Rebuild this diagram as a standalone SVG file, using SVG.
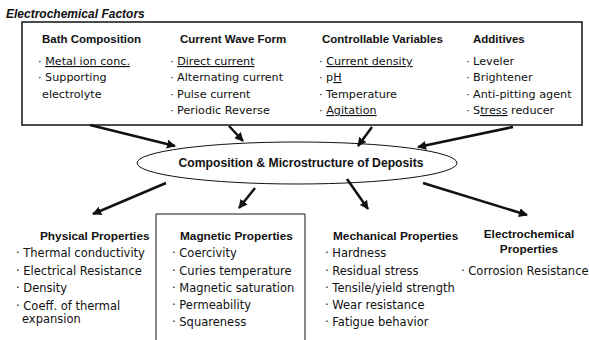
<svg xmlns="http://www.w3.org/2000/svg" width="589" height="340" viewBox="0 0 589 340">
<defs>
<style>
text{font-family:"Liberation Sans",Arial,sans-serif;fill:#111}
.h{font-size:11.5px;font-weight:bold}
.t{font-family:"DejaVu Sans","Liberation Sans",sans-serif;font-size:11.2px}
.b{font-family:"DejaVu Sans","Liberation Sans",sans-serif;font-size:11.5px}
.hb{font-size:11.8px;font-weight:bold}
.u{text-decoration:underline}
.conn line{stroke:#111;stroke-width:2.5;marker-end:url(#ah)}
</style>
<marker id="ah" viewBox="0 0 10 10" refX="9" refY="5" markerWidth="9" markerHeight="9" markerUnits="userSpaceOnUse" orient="auto">
<path d="M0,0 L10,5 L0,10 z" fill="#111"/>
</marker>
</defs>
<rect width="589" height="340" fill="#fff"/>

<g id="title">
<text x="6" y="18" style="font-size:12px;font-weight:bold;font-style:italic">Electrochemical Factors</text>
</g>

<g id="factors">
<rect x="22" y="22" width="560" height="103" fill="none" stroke="#111" stroke-width="1.5"/>
<text class="h" x="42" y="43">Bath Composition</text>
<text class="t" x="38" y="65">· <tspan class="u">Metal ion conc.</tspan></text>
<text class="t" x="38" y="81">· Supporting</text>
<text class="t" x="42" y="98">electrolyte</text>

<text class="h" x="180" y="43">Current Wave Form</text>
<text class="t" x="170" y="65">· <tspan class="u">Direct current</tspan></text>
<text class="t" x="170" y="81">· Alternating current</text>
<text class="t" x="170" y="98">· Pulse current</text>
<text class="t" x="170" y="114">· Periodic Reverse</text>

<text class="h" x="322" y="43">Controllable Variables</text>
<text class="t" x="319" y="65">· <tspan class="u">Current density</tspan></text>
<text class="t" x="319" y="81">· p<tspan class="u">H</tspan></text>
<text class="t" x="319" y="98">· Temperature</text>
<text class="t" x="319" y="114">· <tspan class="u">Agitation</tspan></text>

<text class="h" x="473" y="43">Additives</text>
<text class="t" x="466" y="65">· Leveler</text>
<text class="t" x="466" y="81">· Brightener</text>
<text class="t" x="466" y="98">· Anti-pitting agent</text>
<text class="t" x="466" y="114">· S<tspan class="u">tress</tspan> reducer</text>
</g>

<g id="deposits">
<ellipse cx="297" cy="163" rx="160" ry="21" fill="none" stroke="#111" stroke-width="1"/>
<text x="301" y="167" text-anchor="middle" style="font-size:12.2px;font-weight:bold">Composition &amp; Microstructure of Deposits</text>
</g>

<g id="physical">
<text class="hb" x="40" y="240">Physical Properties</text>
<text class="b" x="16" y="257">· Thermal conductivity</text>
<text class="b" x="16" y="275">· Electrical Resistance</text>
<text class="b" x="16" y="292">· Density</text>
<text class="b" x="16" y="310">· Coeff. of thermal</text>
<text class="b" x="22" y="323">expansion</text>
</g>

<g id="magnetic">
<polyline points="156,345 156,214 305,214 305,345" fill="none" stroke="#111" stroke-width="1"/>
<text class="hb" x="180" y="240">Magnetic Properties</text>
<text class="b" x="172" y="257">· Coercivity</text>
<text class="b" x="172" y="275">· Curies temperature</text>
<text class="b" x="172" y="292">· Magnetic saturation</text>
<text class="b" x="172" y="309">· Permeability</text>
<text class="b" x="172" y="326">· Squareness</text>
</g>

<g id="mechanical">
<text class="hb" x="333" y="240">Mechanical Properties</text>
<text class="b" x="325" y="257">· Hardness</text>
<text class="b" x="325" y="275">· Residual stress</text>
<text class="b" x="325" y="292">· Tensile/yield strength</text>
<text class="b" x="325" y="309">· Wear resistance</text>
<text class="b" x="325" y="326">· Fatigue behavior</text>
</g>

<g id="electrochemical">
<text class="hb" x="529" y="238" text-anchor="middle">Electrochemical</text>
<text class="hb" x="529" y="253" text-anchor="middle">Properties</text>
<text class="b" x="461" y="275">· Corrosion Resistance</text>
</g>

<g id="connectors" class="conn">
<line x1="90" y1="125" x2="175" y2="146"/>
<line x1="229" y1="126" x2="243" y2="141"/>
<line x1="372" y1="127" x2="358" y2="146"/>
<line x1="513" y1="127" x2="418" y2="147"/>
<line x1="166" y1="183" x2="93" y2="214"/>
<line x1="255" y1="188" x2="239" y2="208"/>
<line x1="347" y1="179" x2="368" y2="209"/>
<line x1="423" y1="183" x2="527" y2="215"/>
</g>
</svg>
